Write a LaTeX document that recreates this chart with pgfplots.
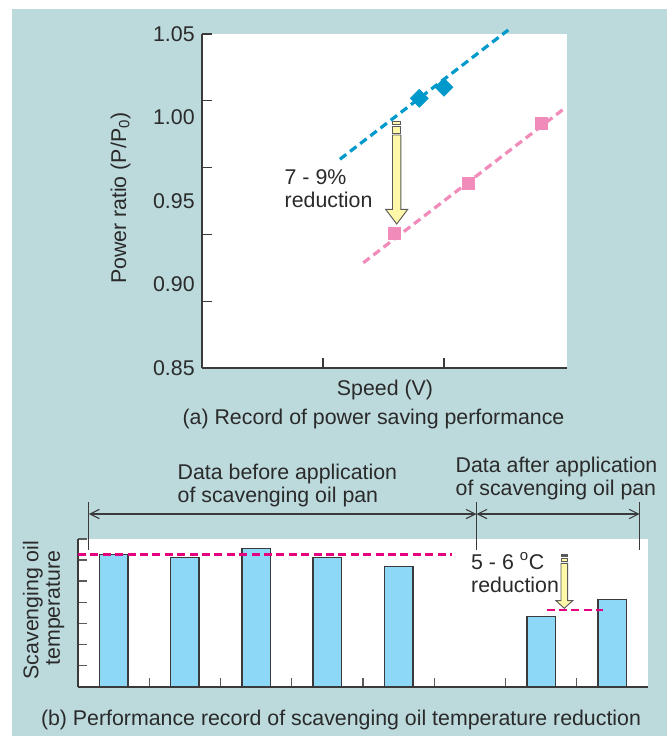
\documentclass[border=0pt]{standalone}
\usepackage{pgfplots}
\pgfplotsset{compat=1.18}
\usetikzlibrary{arrows.meta}
\usepackage{fontspec}
\setmainfont{Liberation Sans}

\definecolor{bgteal}{HTML}{BCD9DC}
\definecolor{txt}{HTML}{2A2A2A}
\definecolor{axgray}{HTML}{3A3A3A}
\definecolor{tickgray}{HTML}{5A5A5A}
\definecolor{blueS}{HTML}{0099CC}
\definecolor{pinkS}{HTML}{F18BBA}
\definecolor{magS}{HTML}{E4007F}
\definecolor{barF}{HTML}{8DD7F7}
\definecolor{arrF}{HTML}{FFF8A8}

\newcommand{\lab}{\fontsize{16}{18}\selectfont}

\begin{document}
\begin{tikzpicture}[font=\lab, text=txt]
% page and background, 1px = 0.75pt
\begin{scope}[x=0.75pt,y=-0.75pt]
\useasboundingbox (0,0) rectangle (667,736);
\fill[white] (0,0) rectangle (667,736);
\fill[bgteal] (12,9) rectangle (667,736);
\end{scope}

% (a) power ratio vs speed
\begin{axis}[
  at={(151.5pt,-276pt)}, anchor=south west,
  scale only axis, width=273.75pt, height=250.5pt,
  xmin=0, xmax=3.017, ymin=0.85, ymax=1.05,
  axis x line*=bottom, axis y line*=left,
  axis line style={axgray, line width=1.3pt},
  axis background/.style={fill=white},
  tick align=inside,
  xtick={1,2}, xticklabels={},
  ytick={0.85,0.89,0.93,0.97,1.01,1.05}, yticklabels={},
  major tick length=7.5pt,
  tick style={axgray, line width=1pt},
  tick label style={font=\lab, text=txt},
  extra y ticks={0.85,0.90,0.95,1.00,1.05},
  extra y tick labels={0.85,0.90,0.95,1.00,1.05},
  extra y tick style={major tick length=0pt, yticklabel style={xshift=-2pt}},
  clip=false,
]
\addplot[blueS, line width=2.4pt, dash pattern=on 6pt off 3.6pt] coordinates {(1.140,0.9750) (2.531,1.0524)};
\addplot[blueS, only marks, mark=square*, mark size=4.8pt, mark options={rotate=45, fill=blueS, draw=blueS}] coordinates {(1.796,1.0115) (2.000,1.0181)};
\addplot[pinkS, line width=2.4pt, dash pattern=on 6pt off 3.6pt] coordinates {(1.333,0.9130) (2.986,1.0049)};
\addplot[pinkS, only marks, mark=square*, mark size=4.6pt, mark options={fill=pinkS, draw=pinkS}] coordinates {(1.589,0.9306) (2.201,0.9606) (2.807,0.9965)};
\end{axis}

% (b) scavenging oil temperature
\begin{axis}[
  at={(58.5pt,-515pt)}, anchor=south west,
  scale only axis, width=427.5pt, height=110.8pt,
  xmin=-0.5, xmax=7.5, ymin=0, ymax=7,
  axis x line*=bottom, axis y line*=left,
  axis line style={axgray, line width=1.4pt},
  axis background/.style={fill=white},
  tick align=inside,
  xtick={0.5,1.5,2.5,3.5,4.5,5.5,6.5}, xticklabels={},
  ytick={1,2,3,4,5,6,7}, yticklabels={},
  major tick length=6.75pt,
  tick style={tickgray, line width=1pt},
  clip=false,
]
\addplot[ybar, bar width=0.4, fill=barF, draw=axgray, line width=1.1pt] coordinates {(0,6.27) (1,6.13) (2,6.54) (3,6.13) (4,5.69) (6,3.32) (7,4.12)};
\addplot[magS, line width=2pt, dash pattern=on 6pt off 3.3pt] coordinates {(-0.5,6.27) (4.745,6.27)};
\addplot[magS, line width=2pt, dash pattern=on 6pt off 3.3pt] coordinates {(6.078,3.63) (6.873,3.63)};
\end{axis}

\begin{scope}[x=0.75pt,y=-0.75pt]
% labels (a)
\node[anchor=base] at (385,395.7) {Speed (V)};
\node[anchor=base] at (373.5,424) {(a) Record of power saving performance};
\node[rotate=90, anchor=base] at (126,198.3) {Power ratio (P/P\textsubscript{0})};
\node[anchor=base west] at (280,184) {7 - 9\%};
\node[anchor=base west] at (280,207.7) {reduction};
% arrow (a)
\begin{scope}[draw=tickgray, fill=arrF, line width=0.7pt]
\filldraw (392.5,121.7) rectangle (400.9,124.3);
\filldraw (392.5,126.7) rectangle (400.9,133.3);
\filldraw (392.5,135) -- (392.5,209.3) -- (385.6,209.3) -- (396.7,224) -- (407.8,209.3) -- (400.9,209.3) -- (400.9,135) -- cycle;
\end{scope}

% labels (b)
\node[anchor=base west] at (173,479.3) {Data before application};
\node[anchor=base west] at (173,502.7) {of scavenging oil pan};
\node[anchor=base west] at (451,472.3) {Data after application};
\node[anchor=base west] at (451,495.7) {of scavenging oil pan};
\node[anchor=base west] at (466.5,569) {5 - 6 \textsuperscript{o}C};
\node[anchor=base west] at (466.5,592.7) {reduction};
\node[rotate=90, anchor=base] at (38.5,610) {Scavenging oil};
\node[rotate=90, anchor=base] at (60,608) {temperature};
\node[anchor=base] at (341,725) {(b) Performance record of scavenging oil temperature reduction};
% dimension lines
\begin{scope}[draw=axgray, line width=0.8pt]
\draw (88.9,502.3) -- (88.9,550);
\draw (476.5,502.3) -- (476.5,550);
\draw (639.7,502.3) -- (639.7,550);
\draw[{Straight Barb[length=7pt,width=7pt]}-{Straight Barb[length=7pt,width=7pt]}] (88.9,514) -- (476.5,514);
\draw[{Straight Barb[length=7pt,width=7pt]}-{Straight Barb[length=7pt,width=7pt]}] (476.5,514) -- (639.7,514);
\end{scope}
% arrow (b)
\begin{scope}[draw=tickgray, fill=arrF, line width=0.7pt]
\filldraw[fill=tickgray] (561,554.3) rectangle (567.6,556.7);
\filldraw (561,558.3) rectangle (567.6,561.7);
\filldraw (561,563.3) -- (561,600.7) -- (556,600.7) -- (564.3,608.3) -- (572.6,600.7) -- (567.6,600.7) -- (567.6,563.3) -- cycle;
\end{scope}
\end{scope}
\end{tikzpicture}
\end{document}
